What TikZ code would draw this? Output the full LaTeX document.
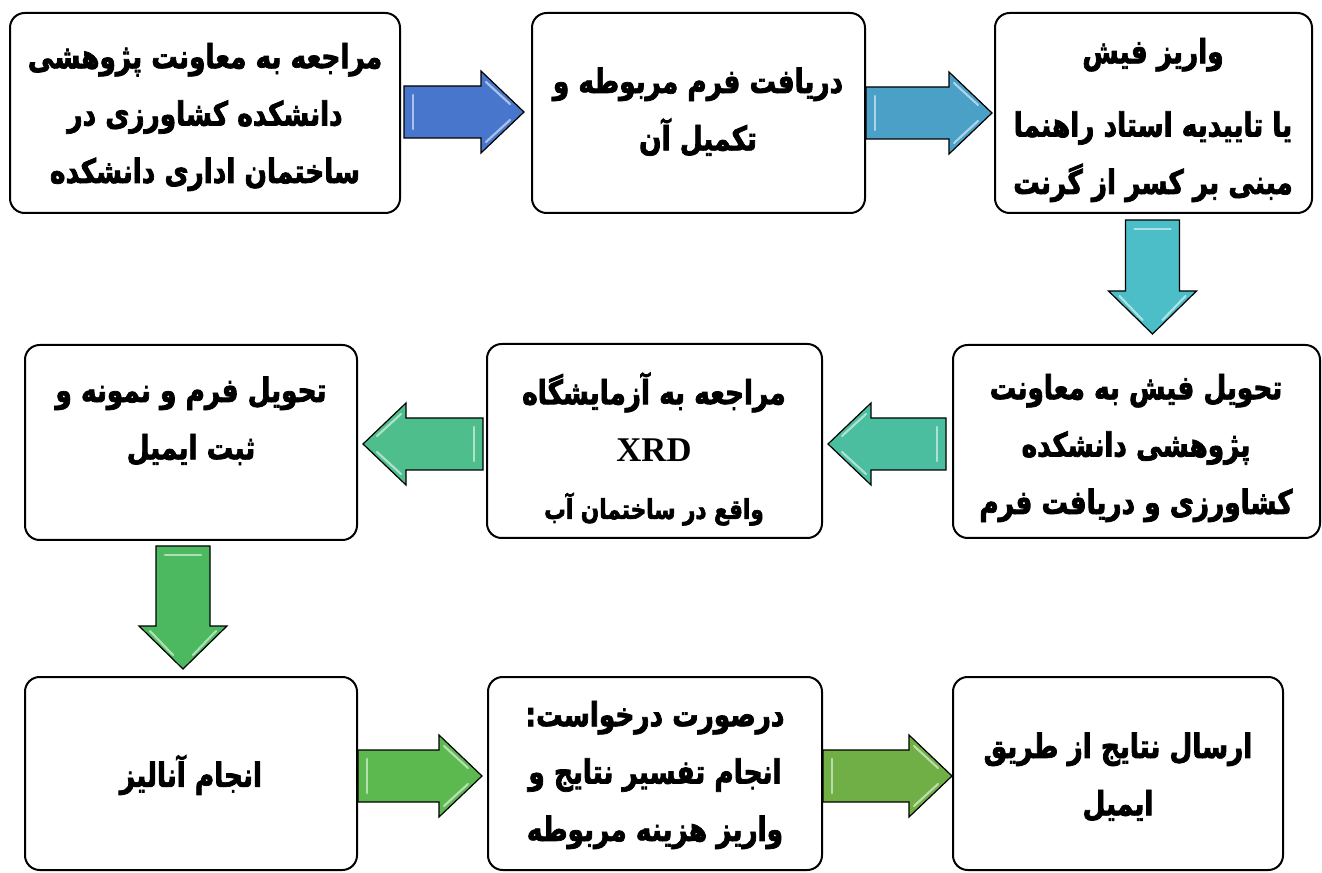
\documentclass[tikz,border=0pt]{standalone}
\usepackage{fontspec}
\usetikzlibrary{calc}
\TeXXeTstate=1
\newfontfamily\fa[Script=Arabic, FakeBold=2.2, FakeStretch=0.79]{DejaVu Sans Bold}
\newfontfamily\tnr{Liberation Serif Bold}
\newcommand\RL[1]{\beginR #1\endR}
\definecolor{cA}{RGB}{72,118,205}
\definecolor{cB}{RGB}{75,160,200}
\definecolor{cC}{RGB}{75,190,200}
\definecolor{cD}{RGB}{75,190,160}
\definecolor{cE}{RGB}{78,190,140}
\definecolor{cF}{RGB}{76,185,96}
\definecolor{cG}{RGB}{92,185,80}
\definecolor{cH}{RGB}{112,175,70}
% right-pointing block arrow: #1 shaft start, #2 tip, #3 colour
\newcommand\rarr[3]{%
  \draw[barr, fill=#3] ($#1+(0,-26)$) -- ($#2+(-43,-26)$) -- ($#2+(-43,-41)$) -- #2
    -- ($#2+(-43,41)$) -- ($#2+(-43,26)$) -- ($#1+(0,26)$) -- cycle;
  \draw[hl] ($#1+(9,-17)$) -- ($#1+(9,17)$);
  \draw[hl] ($#2+(-38,-30)$) -- ($#2+(-14,-8)$);
  \draw[hl] ($#2+(-38,30)$) -- ($#2+(-14,8)$);}
\newcommand\larr[3]{%
  \draw[barr, fill=#3] ($#1+(0,-26)$) -- ($#2+(43,-26)$) -- ($#2+(43,-41)$) -- #2
    -- ($#2+(43,41)$) -- ($#2+(43,26)$) -- ($#1+(0,26)$) -- cycle;
  \draw[hl] ($#1+(-9,-17)$) -- ($#1+(-9,17)$);
  \draw[hl] ($#2+(38,-30)$) -- ($#2+(14,-8)$);
  \draw[hl] ($#2+(38,30)$) -- ($#2+(14,8)$);}
\newcommand\darr[3]{%
  \draw[barr, fill=#3] ($#1+(-27,0)$) -- ($#2+(-27,-43)$) -- ($#2+(-44,-43)$) -- #2
    -- ($#2+(44,-43)$) -- ($#2+(27,-43)$) -- ($#1+(27,0)$) -- cycle;
  \draw[hl] ($#1+(-18,9)$) -- ($#1+(18,9)$);
  \draw[hl] ($#2+(-33,-38)$) -- ($#2+(-10,-14)$);
  \draw[hl] ($#2+(33,-38)$) -- ($#2+(10,-14)$);}
\begin{document}
\begin{tikzpicture}[x=0.75pt,y=-0.75pt,
  box/.style={draw=black, line width=1.5pt, rounded corners=11pt, fill=white, inner sep=0pt},
  txt/.style={align=center, font=\fa\fontsize{25}{43}\selectfont, inner sep=0pt},
  barr/.style={draw=black, line width=0.9pt, line join=miter},
  hl/.style={draw=white, opacity=0.55, line width=1.6pt, line cap=round}]
\useasboundingbox (0,0) rectangle (1322,873);
% boxes
\node[box, minimum width=292.5pt, minimum height=150pt] (A) at (205,113) {};
\node[box, minimum width=249.75pt, minimum height=150pt] (B) at (698.5,113) {};
\node[box, minimum width=237.75pt, minimum height=150pt] (C) at (1153.5,113) {};
\node[box, minimum width=275.25pt, minimum height=144.75pt] (D) at (1136.5,441.5) {};
\node[box, minimum width=251.25pt, minimum height=145.5pt] (E) at (654.5,441) {};
\node[box, minimum width=249pt, minimum height=146.25pt] (F) at (191,442.5) {};
\node[box, minimum width=249pt, minimum height=144.75pt] (G) at (191,773.5) {};
\node[box, minimum width=250.5pt, minimum height=144.75pt] (H) at (655,773.5) {};
\node[box, minimum width=247.5pt, minimum height=144.75pt] (I) at (1118,773.5) {};
% texts
\node[txt] (tA) at (205,117) {\RL{مراجعه به معاونت پژوهشی}\\\RL{دانشکده کشاورزی در}\\\RL{ساختمان اداری دانشکده}};
\node[txt] (tB) at (698,112) {\RL{دریافت فرم مربوطه و}\\\RL{تکمیل آن}};
\node[txt] (tC) at (1153,120) {\RL{واریز فیش}\\[12pt]\RL{یا تاییدیه استاد راهنما}\\\RL{مبنی بر کسر از گرنت}};
\node[txt] (tD) at (1136,448) {\RL{تحویل فیش به معاونت}\\\RL{پژوهشی دانشکده}\\\RL{کشاورزی و دریافت فرم}};
\node[txt] (tE) at (654,449) {\RL{مراجعه به آزمایشگاه}\\{\tnr\fontsize{26}{30}\selectfont XRD}\\{\fontsize{20.5}{20}\selectfont\RL{واقع در ساختمان آب}}};
\node[txt] (tF) at (191,421) {\RL{تحویل فرم و نمونه و}\\\RL{ثبت ایمیل}};
\node[txt] (tG) at (191,775) {\RL{انجام آنالیز}};
\node[txt] (tH) at (655,775) {\RL{درصورت درخواست:}\\\RL{انجام تفسیر نتایج و}\\\RL{واریز هزینه مربوطه}};
\node[txt] (tI) at (1118,777) {\RL{ارسال نتایج از طریق}\\\RL{ایمیل}};
% arrow end points
\coordinate (s1) at ($(A.east)+(3,-1)$);   \coordinate (e1) at ($(B.west)+(-7,-1)$);
\coordinate (s2) at ($(B.east)+(0,0)$);    \coordinate (e2) at ($(C.west)+(-2,0)$);
\coordinate (s3) at ($(C.south)+(-1,6)$);  \coordinate (e3) at ($(C.south |- D.north)+(-1,-10)$);
\coordinate (s4) at ($(D.west)+(-6,2.5)$); \coordinate (e4) at ($(E.east)+(5,3)$);
\coordinate (s5) at ($(E.west)+(-3,3)$);   \coordinate (e5) at ($(F.east)+(5,1.5)$);
\coordinate (s6) at ($(F.south)+(-8,5)$);  \coordinate (e6) at ($(F.south |- G.north)+(-8,-7)$);
\coordinate (s7) at ($(G.east)+(0,2.5)$);  \coordinate (e7) at ($(H.west)+(-5,2.5)$);
\coordinate (s8) at ($(H.east)+(0,2.5)$);  \coordinate (e8) at ($(I.west)+(0,2.5)$);
\rarr{(s1)}{(e1)}{cA}
\rarr{(s2)}{(e2)}{cB}
\darr{(s3)}{(e3)}{cC}
\larr{(s4)}{(e4)}{cD}
\larr{(s5)}{(e5)}{cE}
\darr{(s6)}{(e6)}{cF}
\rarr{(s7)}{(e7)}{cG}
\rarr{(s8)}{(e8)}{cH}
\end{tikzpicture}
\end{document}
